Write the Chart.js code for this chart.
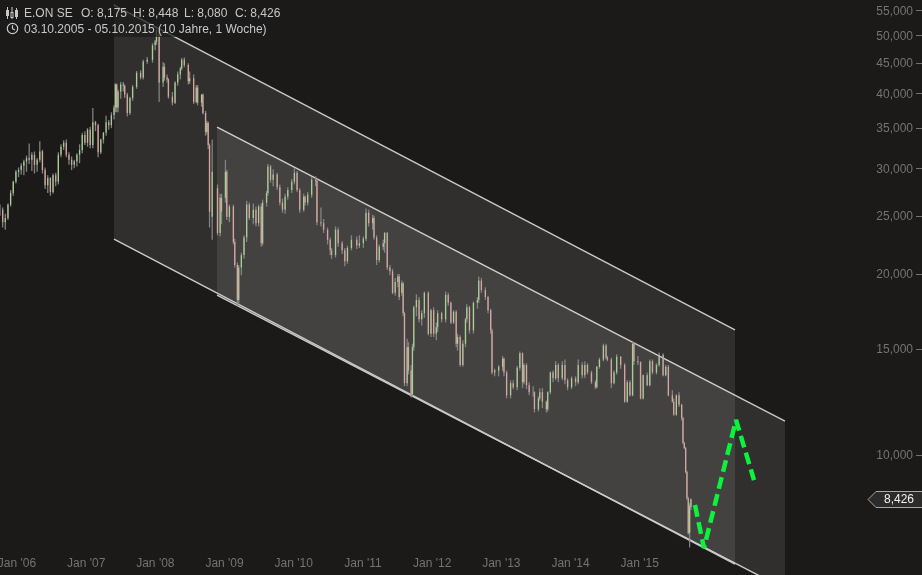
<!DOCTYPE html>
<html><head><meta charset="utf-8">
<script src="https://cdn.jsdelivr.net/npm/chart.js@4"></script>
<style>
html,body{margin:0;padding:0;background:#1b1a19;width:922px;height:575px;overflow:hidden}
canvas{position:absolute;left:0;top:0}
.band{position:absolute;left:0;height:16px;background:rgba(27,27,27,.72)}
.t{position:absolute;font:12px "Liberation Sans",Arial,sans-serif;color:#c8c8c8;line-height:16px;white-space:pre}
svg{position:absolute}
</style></head><body>
<canvas id="c" width="922" height="575"></canvas>
<div class="band" style="top:5px;width:286px"></div>
<div class="band" style="top:21px;width:275px"></div>
<svg style="left:6px;top:7px" width="12" height="12" viewBox="0 0 12 12" stroke="#c8c8c8" fill="none"><path d="M1.5 0v12M6 0v12M10.5 1v11"/><rect x=".5" y="3.5" width="2" height="5" fill="#c8c8c8"/><rect x="5" y="5.5" width="2" height="5" fill="#1b1a19"/><rect x="9.5" y="3.5" width="2" height="6" fill="#c8c8c8"/></svg>
<svg style="left:6px;top:22px" width="13" height="13" viewBox="0 0 13 13" stroke="#c8c8c8" fill="none" stroke-width="1.2"><circle cx="6.5" cy="6.5" r="5.2"/><path d="M6.5 3.2v3.5l2.4 1.4"/></svg>
<div id="hdr"></div>
<script>
const startYear = 2005.755, weeksPerYear = 52.18;
const headerTexts = ["E.ON SE","O: 8,175","H: 8,448","L: 8,080","C: 8,426"];
const rangeText = "03.10.2005 - 05.10.2015 (10 Jahre, 1 Woche)";
const xTickYears = [2006,2007,2008,2009,2010,2011,2012,2013,2014,2015];
const xTickLabels = ["Jan '06","Jan '07","Jan '08","Jan '09","Jan '10","Jan '11","Jan '12","Jan '13","Jan '14","Jan '15"];
const yTickValues = [10,15,20,25,30,35,40,45,50,55];
const yTickLabels = ["10,000","15,000","20,000","25,000","30,000","35,000","40,000","45,000","50,000","55,000"];
const lastPrice = 8.426, lastPriceLabel = "8,426";

const weeks = [0,2,4,6,8,10,12,14,16,18,
20,22,24,26,28,30,32,34,36,38,
40,42,44,46,48,50,52,54,56,58,
60,62,64,66,68,70,72,74,76,78,
80,82,84,86,87,88,89,91,93,94,
96,98,100,103,106,108,111,115,117,118,
120,123,124,126,127,130,132,134,136,137,
139,142,143,146,148,149,152,153,155,156,
157,158,160,164,166,167,170,171,173,176,
177,179,180,182,184,186,188,191,193,195,
197,198,201,202,204,206,209,211,213,215,
217,220,222,224,226,229,230,232,235,238,
239,242,244,247,249,250,253,255,258,260,
262,265,269,271,274,276,278,281,282,284,
286,289,290,292,294,296,298,300,301,303,
304,305,307,308,310,311,312,314,316,318,
320,323,325,327,329,330,333,336,338,340,
342,344,345,347,349,351,352,354,357,360,
361,363,366,368,370,371,373,376,379,380,
382,385,387,390,392,394,395,397,399,402,
403,406,407,409,412,413,415,417,419,421,
424,426,428,431,434,436,439,441,443,446,
449,450,452,455,457,458,461,463,465,468,
471,473,475,477,478,481,483,485,488,490,
492,495,497,500,502,504,507,508,510,512,
514,515,516,517,518,519,520,521];

const opens = [25.6,25.6,24.4,24.8,26.1,27.3,28.5,29.6,29.8,30.3,
30.8,31.2,31.0,31.6,30.4,31.0,32.0,29.8,28.1,28.9,
27.4,29.2,28.5,31.6,32.6,33.1,31.6,31.0,30.4,30.8,
31.6,32.2,34.1,33.1,34.8,32.8,35.8,35.4,31.9,33.5,
34.4,35.8,35.4,36.8,37.9,41.4,37.9,40.3,41.4,41.2,
39.8,37.1,39.3,41.0,43.3,42.5,45.2,45.5,48.1,48.8,
51.0,41.7,44.3,42.5,42.2,39.5,38.6,41.7,43.0,44.0,
45.5,44.6,41.9,42.4,38.7,40.9,38.6,39.8,37.1,34.5,
35.7,32.8,24.9,27.8,23.4,26.8,26.8,29.6,24.9,25.9,
22.6,20.7,18.1,20.5,21.5,23.0,26.1,24.8,25.6,24.3,
25.9,22.5,26.3,27.3,30.2,28.7,29.3,27.9,26.3,25.6,
26.9,27.6,28.5,29.5,27.6,25.6,26.9,26.3,27.1,28.7,
28.6,24.4,24.3,23.7,22.8,21.9,21.5,23.7,22.5,21.9,
21.0,22.1,22.8,22.3,22.5,22.9,25.3,24.3,24.8,23.0,
21.1,22.2,22.5,23.4,20.5,20.2,18.6,19.4,19.8,18.6,
19.3,17.2,13.15,15.1,13.8,12.6,15.1,17.6,18.1,16.8,
17.2,18.6,15.9,17.4,15.9,16.3,17.2,16.8,18.45,17.9,
16.6,17.3,15.3,15.7,14.1,15.3,16.8,17.6,16.1,17.9,
18.1,19.5,18.8,18.3,17.4,16.1,13.7,13.8,14.0,14.45,
13.7,12.55,13.15,12.95,13.95,14.75,13.2,14.1,13.05,12.7,
12.7,11.9,12.4,12.7,12.25,11.9,12.7,13.7,13.4,14.1,
13.4,14.1,13.3,12.95,13.4,13.2,14.1,13.55,14.1,13.7,
13.2,12.95,14.0,14.4,15.2,14.5,14.4,13.15,13.7,14.55,
14.1,12.25,13.2,12.55,15.3,14.3,14.25,12.4,13.55,13.05,
14.3,13.7,14.1,14.65,13.55,14.0,12.55,12.25,11.65,12.55,
12.1,11.5,10.45,10.25,9.35,8.45,7.4,8.175];

const highs = [26.1,25.8,25.2,26.2,27.6,28.6,29.8,30.1,30.6,31.0,
31.5,33.0,31.9,32.0,31.2,33.3,32.2,30.1,29.2,29.0,
29.4,29.5,31.9,32.9,33.4,33.5,31.9,31.4,31.0,31.8,
32.9,34.4,34.6,35.0,35.2,37.8,36.0,35.6,33.6,34.5,
36.7,36.1,37.2,38.2,41.6,41.5,40.6,41.8,41.8,41.4,
40.1,39.5,41.3,43.6,43.7,45.5,46.0,48.5,49.1,51.7,
51.3,45.1,44.9,43.0,42.4,40.2,41.9,43.5,44.3,45.8,
45.9,44.9,43.5,43.0,41.3,41.3,39.9,40.0,37.4,36.0,
35.9,33.0,33.5,28.2,27.2,27.2,31.0,29.8,26.1,26.1,
22.9,20.9,20.7,21.7,23.2,26.5,26.3,26.2,25.9,26.1,
26.2,26.6,27.5,30.5,30.4,29.9,29.5,28.2,26.7,27.2,
27.9,28.8,30.0,29.7,27.8,27.2,27.0,27.4,29.0,29.1,
28.8,25.8,24.7,23.9,23.0,22.1,24.0,23.9,22.7,22.1,
22.3,23.2,23.1,23.2,23.1,25.7,25.6,25.1,25.0,23.2,
22.4,22.8,23.5,23.5,20.7,20.4,19.7,20.0,20.0,19.5,
19.4,17.3,15.6,15.4,14.1,15.3,17.7,18.5,18.3,17.4,
18.7,18.7,17.5,17.6,16.6,17.4,17.3,18.7,18.6,18.0,
17.4,17.4,15.9,15.8,15.5,16.9,17.8,17.7,18.0,18.3,
19.8,19.7,19.0,18.4,17.5,16.2,13.9,14.1,14.6,14.5,
13.8,13.3,13.3,14.05,14.85,14.8,14.2,14.2,13.2,13.0,
12.75,12.5,12.9,12.9,12.3,12.75,13.75,13.8,14.3,14.2,
14.3,14.4,13.4,13.5,13.5,14.4,14.25,14.3,14.2,13.8,
13.3,14.05,14.5,15.3,15.3,14.6,14.5,13.8,14.7,14.6,
14.2,13.3,13.3,15.4,15.4,14.6,14.3,13.6,13.7,14.4,
14.4,14.2,14.8,14.75,14.1,14.1,12.8,12.4,12.6,12.7,
12.15,11.55,10.5,10.3,9.4,8.5,8.3,8.448];

const lows = [25.0,23.9,23.7,24.6,25.9,27.0,28.3,29.0,29.3,29.2,
29.6,30.5,29.7,29.4,29.6,30.7,29.4,27.7,27.3,27.0,
27.2,28.0,28.2,31.3,32.2,31.3,30.4,29.8,30.0,30.2,
30.6,31.8,32.8,32.6,32.4,32.4,34.6,31.3,31.7,33.0,
34.0,34.8,35.0,36.2,37.2,37.2,37.2,39.2,40.3,39.3,
36.6,36.8,38.9,40.7,42.2,42.2,44.8,45.0,47.2,48.2,
38.7,41.0,42.0,41.7,39.2,38.2,38.4,41.2,42.2,43.7,
44.2,41.4,41.5,38.4,38.5,38.2,38.0,36.9,34.0,34.2,
32.3,23.9,22.8,23.2,23.1,24.2,26.3,24.6,24.4,22.4,
20.5,17.7,17.8,19.9,21.2,22.6,24.6,24.2,24.0,24.0,
22.2,22.3,25.9,27.0,28.4,28.0,27.6,26.0,25.3,25.2,
26.6,27.3,28.2,27.4,25.3,25.4,26.0,26.0,26.8,28.0,
24.1,24.0,23.4,22.4,21.5,21.2,21.3,22.2,21.6,20.6,
20.8,21.9,22.0,22.1,22.1,22.7,24.0,23.7,22.8,20.7,
20.9,21.9,21.7,20.3,19.9,18.5,18.4,19.0,18.1,18.4,
17.0,13.0,13.0,13.6,12.45,12.5,14.9,17.0,16.6,16.4,
16.9,15.8,15.7,15.7,15.5,16.0,16.6,16.6,17.7,16.5,
16.5,15.1,14.9,14.0,14.0,15.1,16.6,15.9,15.9,17.5,
17.9,18.6,18.1,17.2,15.9,13.6,13.5,13.5,13.8,13.5,
12.4,12.4,12.85,12.8,13.8,12.9,13.1,12.85,12.55,12.5,
11.75,11.8,12.3,11.95,11.75,11.8,12.6,13.2,13.3,13.2,
13.3,13.1,12.8,12.85,13.0,13.1,13.4,13.4,13.6,13.1,
12.85,12.9,13.9,14.3,14.4,14.3,12.9,13.1,13.6,13.9,
12.2,12.2,12.5,12.5,14.1,14.1,12.35,12.35,13.0,13.0,
13.6,13.6,14.0,13.5,13.5,12.5,12.2,11.6,11.6,12.0,
11.4,10.4,10.2,9.3,8.4,7.35,7.0,8.08];

const closes = [25.6,24.4,24.8,26.1,27.3,28.5,29.6,29.8,30.3,30.8,
31.2,31.0,31.6,30.4,31.0,32.0,29.8,28.1,28.9,27.4,
29.2,28.5,31.6,32.6,33.1,31.6,31.0,30.4,30.8,31.6,
32.2,34.1,33.1,34.8,32.8,35.8,35.4,31.9,33.5,34.4,
35.8,35.4,36.8,37.9,41.4,37.9,40.3,41.4,41.2,39.8,
37.1,39.3,41.0,43.3,42.5,45.2,45.5,48.1,48.8,51.0,
41.7,44.3,42.5,42.2,39.5,38.6,41.7,43.0,44.0,45.5,
44.6,41.9,42.4,38.7,40.9,38.6,39.8,37.1,34.5,35.7,
32.8,25.4,29.6,23.4,26.8,25.4,29.6,24.9,25.9,22.6,
20.7,18.1,20.5,21.5,23.0,26.1,24.8,25.6,24.3,25.9,
22.5,26.3,27.3,30.2,28.7,29.3,27.9,26.3,25.6,26.9,
27.6,28.5,29.5,27.6,25.6,26.9,26.3,27.1,28.7,28.6,
24.4,24.3,23.7,22.8,21.9,21.5,23.7,22.5,21.9,21.0,
22.1,22.8,22.3,22.5,22.9,25.3,24.3,24.8,23.0,21.1,
22.2,22.5,23.4,20.5,20.2,18.6,19.4,19.8,18.3,19.3,
17.2,13.15,15.1,13.8,12.6,15.1,17.6,18.1,16.8,17.2,
18.6,15.9,17.4,15.9,16.3,17.2,16.8,18.45,17.9,16.6,
17.3,15.3,15.7,14.1,15.3,16.8,17.6,16.1,17.9,18.1,
19.5,18.8,18.3,17.4,16.1,13.7,13.8,14.0,14.45,13.7,
12.55,13.15,12.95,13.95,14.75,13.2,14.1,13.05,12.7,12.7,
11.9,12.4,12.7,12.25,11.9,12.7,13.7,13.4,14.1,13.4,
14.1,13.3,12.95,13.4,13.2,14.1,13.55,14.1,13.7,13.2,
12.95,14.0,14.4,15.2,14.5,14.4,13.15,13.7,14.55,14.1,
12.25,13.2,12.55,15.3,14.3,14.25,12.4,13.55,13.05,14.3,
13.7,14.1,14.65,13.55,14.0,12.55,12.25,11.65,12.55,12.1,
11.5,10.45,10.25,9.35,8.45,7.4,8.2,8.426];

const outerYears = [2007.402,2016.376];
const outerTop = [56.15,16.13];
const outerBottom = [22.87,6.568];
const innerYears = [2008.891,2017.099];
const innerTop = [35.155,11.372];
const innerBottom = [18.447,5.967];
const pathYears = [2015.798,2015.928,2016.391,2016.651];
const pathPrices = [8.238,6.984,11.416,9.067];
const xLabelLevel = 6.394;

const xMin = startYear, xMax = startYear + 922/69.2;
const yMin = 6.297, yMax = 57.245;
const AXIS="#737373", UP="rgba(176,226,152,.8)", DOWN="rgba(230,172,164,.85)", WICK="rgba(140,140,140,.9)", LINE="#c9c9c9";

const hdr=document.getElementById('hdr');
[24,81,133,184,235].forEach((l,i)=>{const d=document.createElement('div');d.className='t';d.style.left=l+'px';d.style.top='5px';d.textContent=headerTexts[i];hdr.appendChild(d);});
{const d=document.createElement('div');d.className='t';d.style.left='24px';d.style.top='21px';d.textContent=rangeText;hdr.appendChild(d);}

const years = weeks.map(w=>startYear+w/weeksPerYear);
const wickData = years.map((x,i)=>({x,y:[lows[i],highs[i]]}));
const bodyData = years.map((x,i)=>({x,y:[Math.min(opens[i],closes[i]),Math.max(opens[i],closes[i])]}));
const bodyColors = closes.map((c,i)=>c>=opens[i]?UP:DOWN);
const pts=(xs,ys)=>xs.map((x,i)=>({x,y:ys[i]}));
const chan=(data,fill)=>({type:'line',data,order:5,borderColor:LINE,borderWidth:1.4,pointRadius:0,tension:0,
  fill:fill?'+1':false,backgroundColor:'rgba(255,255,255,0.095)'});
const noPad=s=>{s.paddingLeft=s.paddingRight=s.paddingTop=s.paddingBottom=0;};

const overlay={id:'overlay',afterDraw(chart){
  const {ctx}=chart,ys=chart.scales.y;
  ctx.save();
  ctx.strokeStyle=AXIS;ctx.lineWidth=1;
  yTickValues.forEach(v=>{const p=Math.round(ys.getPixelForValue(v))+0.5;ctx.beginPath();ctx.moveTo(916,p);ctx.lineTo(922,p);ctx.stroke();});
  const y=Math.round(ys.getPixelForValue(lastPrice))+0.5;
  ctx.beginPath();ctx.moveTo(923,y-8);ctx.lineTo(876,y-8);ctx.lineTo(868,y);ctx.lineTo(876,y+8);ctx.lineTo(923,y+8);ctx.closePath();
  ctx.fillStyle='#2b2b2b';ctx.fill();ctx.strokeStyle='#a8a8a8';ctx.stroke();
  ctx.fillStyle='#f0f0f0';ctx.font='12px "Liberation Sans",Arial,sans-serif';ctx.textAlign='center';ctx.textBaseline='middle';
  ctx.fillText(lastPriceLabel,899,y+0.5);ctx.restore();
}};

new Chart(document.getElementById('c'),{
  type:'bar',
  data:{datasets:[
    chan(pts(outerYears,outerTop),true),
    chan(pts(outerYears,outerBottom),false),
    chan(pts(innerYears,innerTop),true),
    chan(pts(innerYears,innerBottom),false),
    {type:'bar',data:wickData,order:3,grouped:false,barThickness:1.3,backgroundColor:WICK,inflateAmount:0},
    {type:'bar',data:bodyData,order:2,grouped:false,barThickness:1.3,backgroundColor:bodyColors,inflateAmount:0},
    {type:'line',data:pts(pathYears,pathPrices),order:1,borderColor:'#0bf43b',borderWidth:4.5,borderDash:[12,5.5],borderJoinStyle:'bevel',pointRadius:0,tension:0,fill:false}
  ]},
  plugins:[overlay],
  options:{
    responsive:false,animation:false,
    layout:{padding:0},
    plugins:{legend:{display:false},tooltip:{enabled:false}},
    scales:{
      x:{type:'linear',offset:false,min:xMin,max:xMax,position:{y:xLabelLevel},
        afterFit(s){s.height=0;noPad(s);},
        afterBuildTicks(s){s.ticks=xTickYears.map(v=>({value:v}));},
        grid:{display:false,drawTicks:false},border:{display:false},
        ticks:{mirror:true,z:5,padding:0,color:AXIS,autoSkip:false,maxRotation:0,font:{family:'"Liberation Sans",Arial,sans-serif',size:12},
          callback(v){return xTickLabels[xTickYears.indexOf(v)];}}
      },
      y:{type:'logarithmic',min:yMin,max:yMax,position:'right',
        afterFit(s){s.width=0;noPad(s);},
        afterBuildTicks(s){s.ticks=yTickValues.map(v=>({value:v}));},
        grid:{display:false},border:{display:false},
        ticks:{mirror:true,z:5,padding:-9,labelOffset:1,color:AXIS,autoSkip:false,font:{family:'"Liberation Sans",Arial,sans-serif',size:12},
          callback(v){return yTickLabels[yTickValues.indexOf(v)];}}
      }
    }
  }
});
</script>
</body></html>
